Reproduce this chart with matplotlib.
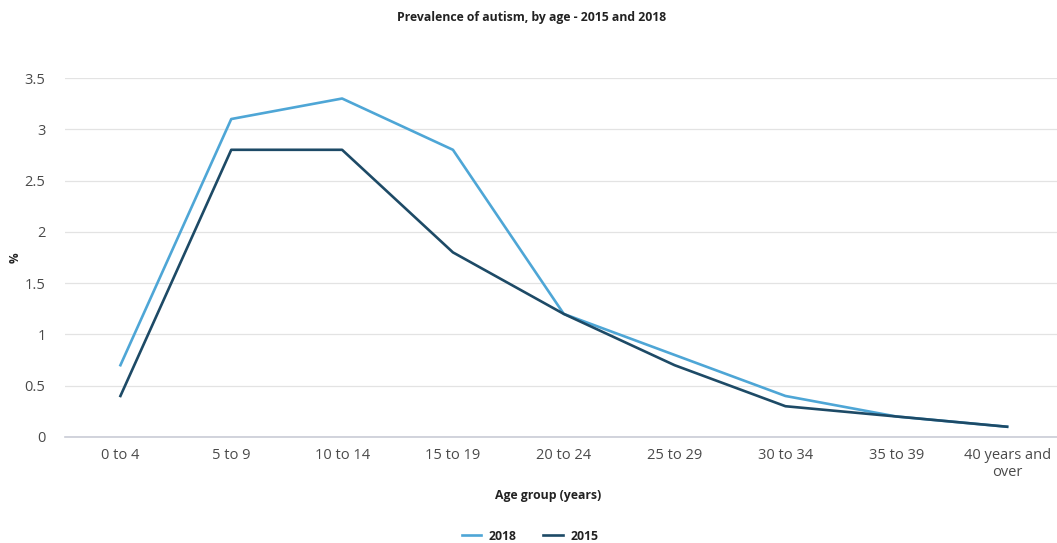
import matplotlib
matplotlib.use("Agg")
import matplotlib.pyplot as plt

plt.rcParams['font.family'] = ['Open Sans', 'DejaVu Sans']

age_groups = ["0 to 4", "5 to 9", "10 to 14", "15 to 19", "20 to 24",
              "25 to 29", "30 to 34", "35 to 39", "40 years and\nover"]
prev_2018 = [0.7, 3.1, 3.3, 2.8, 1.2, 0.8, 0.4, 0.2, 0.1]
prev_2015 = [0.4, 2.8, 2.8, 1.8, 1.2, 0.7, 0.3, 0.2, 0.1]
y_ticks = [0, 0.5, 1, 1.5, 2, 2.5, 3, 3.5]
y_tick_labels = ["0", "0.5", "1", "1.5", "2", "2.5", "3", "3.5"]

W, H = 1057, 543
fig = plt.figure(figsize=(W / 100, H / 100), dpi=100)
ax = fig.add_axes([65 / W, (H - 437) / H, (W - 65) / W, (437 - 78) / H])

x = list(range(len(age_groups)))
l18, = ax.plot(x, prev_2018, color="#4ea6d6", lw=1.9, label="2018")
l15, = ax.plot(x, prev_2015, color="#1d4a66", lw=1.9, label="2015")

ax.set_xlim(-0.5, 8.45)
ax.set_ylim(0, 3.5)
ax.set_yticks(y_ticks)
ax.set_yticklabels(y_tick_labels)
ax.set_xticks(x)
ax.set_xticklabels(age_groups)
ax.grid(axis="y", color="#e3e3e3", lw=0.9)
ax.set_axisbelow(True)
for s in ["top", "right", "left"]:
    ax.spines[s].set_visible(False)
ax.spines["bottom"].set_color("#c9ccd6")
ax.spines["bottom"].set_linewidth(1.2)
ax.tick_params(axis="both", length=0, colors="#4a4a4a", labelsize=10.5)
ax.tick_params(axis="x", pad=8)
ax.tick_params(axis="y", pad=14)

fig.text(532 / W, 1 - 18 / H, "Prevalence of autism, by age - 2015 and 2018",
         ha="center", va="center", fontsize=8.8, fontweight="bold", color="#222222")
fig.text(15 / W, 1 - 258 / H, "%", ha="center", va="center", rotation=90,
         fontsize=8.5, fontweight="bold", color="#222222")
fig.text(548 / W, 1 - 496 / H, "Age group (years)", ha="center", va="center",
         fontsize=8.8, fontweight="bold", color="#222222")

leg = fig.legend(handles=[l18, l15], loc="center", bbox_to_anchor=(530 / W, 1 - 536 / H),
                 ncol=2, frameon=False, handlelength=1.6, columnspacing=2.2,
                 handletextpad=0.6,
                 prop={"family": "Open Sans", "weight": "bold", "size": 8.8})
for t in leg.get_texts():
    t.set_color("#222222")

fig.savefig("out.png", dpi=100, facecolor="white")
